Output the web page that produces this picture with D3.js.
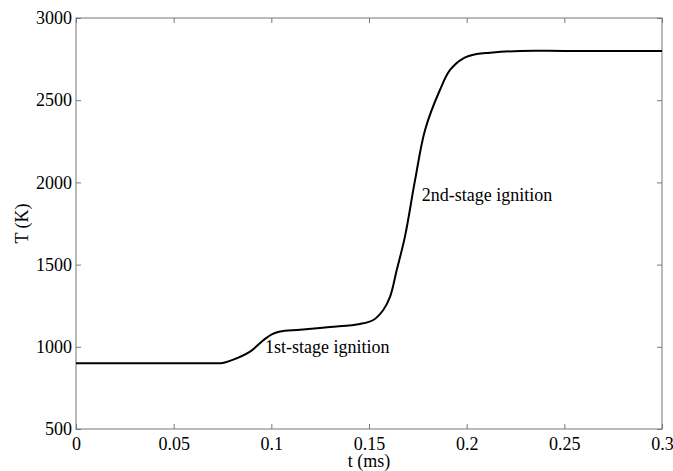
<!DOCTYPE html>
<html>
<head>
<meta charset="utf-8">
<script src="https://cdn.jsdelivr.net/npm/d3@7"></script>
<style>
  body { margin: 0; background: #fff; }
</style>
</head>
<body>
<svg id="chart"></svg>
<script>
// temperature history
var time_ms = [0, 0.025, 0.05, 0.07, 0.075, 0.0788, 0.0891, 0.0959, 0.1002, 0.1044, 0.1147,
               0.13, 0.1454, 0.1522, 0.1573, 0.1608, 0.1642, 0.1684, 0.1736, 0.1787,
               0.1863, 0.1915, 0.1983, 0.2051, 0.212, 0.2273, 0.25, 0.275, 0.3];
var temp_K = [900, 900, 900, 900, 901, 914, 971, 1040, 1076, 1093, 1104,
              1120, 1139, 1163, 1224, 1305, 1467, 1670, 2015, 2319,
              2562, 2684, 2755, 2781, 2789, 2800, 2800, 2800, 2800];

var x_ticks = [0, 0.05, 0.1, 0.15, 0.2, 0.25, 0.3];
var y_ticks = [500, 1000, 1500, 2000, 2500, 3000];

var note_text = ["1st-stage ignition", "2nd-stage ignition"];
var note_t = [0.0968, 0.177];
var note_T = [964, 1889];

var width = 673, height = 471;
var margin = {top: 18, right: 11, bottom: 42, left: 76};
var w = width - margin.left - margin.right,
    h = height - margin.top - margin.bottom;
var axis_col = "#777";
var font_size = "18px";
var serif = "'Liberation Serif', 'Times New Roman', Times, serif";

var svg = d3.select("#chart")
    .attr("width", width)
    .attr("height", height);

var g = svg.append("g")
    .attr("transform", "translate(" + margin.left + "," + margin.top + ")");

var x = d3.scaleLinear().domain([0, 0.3]).range([0, w]);
var y = d3.scaleLinear().domain([500, 3000]).range([h, 0]);

// box
g.append("rect")
    .attr("x", 0).attr("y", 0)
    .attr("width", w).attr("height", h)
    .attr("fill", "none")
    .attr("stroke", axis_col)
    .attr("stroke-width", 1);

// axes with inward ticks
var xAxis = g.append("g")
    .attr("transform", "translate(0," + h + ")")
    .call(d3.axisBottom(x).tickValues(x_ticks).tickSizeInner(-5).tickSizeOuter(0)
          .tickPadding(8).tickFormat(d3.format("")));
var xTop = g.append("g")
    .call(d3.axisTop(x).tickValues(x_ticks).tickSizeInner(-5).tickSizeOuter(0)
          .tickFormat(""));
var yAxis = g.append("g")
    .call(d3.axisLeft(y).tickValues(y_ticks).tickSizeInner(-5).tickSizeOuter(0)
          .tickPadding(4).tickFormat(d3.format("")));
var yRight = g.append("g")
    .attr("transform", "translate(" + w + ",0)")
    .call(d3.axisRight(y).tickValues(y_ticks).tickSizeInner(-5).tickSizeOuter(0)
          .tickFormat(""));

[xAxis, xTop, yAxis, yRight].forEach(function(a) {
  a.select(".domain").remove();
  a.selectAll("line").attr("stroke", axis_col);
  a.selectAll("text")
    .style("font-size", font_size)
    .style("font-family", serif)
    .attr("fill", "#000");
});

// line
var line = d3.line()
    .x(function(d, i) { return x(time_ms[i]); })
    .y(function(d) { return y(d); })
    .curve(d3.curveCatmullRom.alpha(0.5));

g.append("path")
    .datum(temp_K)
    .attr("d", line)
    .attr("fill", "none")
    .attr("stroke", "#000")
    .attr("stroke-width", 2);

// annotations
g.selectAll(".note")
    .data(note_text)
    .enter().append("text")
    .attr("class", "note")
    .attr("x", function(d, i) { return x(note_t[i]); })
    .attr("y", function(d, i) { return y(note_T[i]); })
    .style("font-size", font_size)
    .style("font-family", serif)
    .attr("fill", "#000")
    .text(function(d) { return d; });

// axis titles
svg.append("text")
    .attr("x", margin.left + w / 2)
    .attr("y", 467)
    .attr("text-anchor", "middle")
    .style("font-size", font_size)
    .style("font-family", serif)
    .attr("fill", "#000")
    .text("t (ms)");

svg.append("text")
    .attr("transform", "translate(28," + (margin.top + h / 2) + ") rotate(-90)")
    .attr("text-anchor", "middle")
    .style("font-size", font_size)
    .style("font-family", serif)
    .attr("fill", "#000")
    .text("T (K)");
</script>
</body>
</html>
